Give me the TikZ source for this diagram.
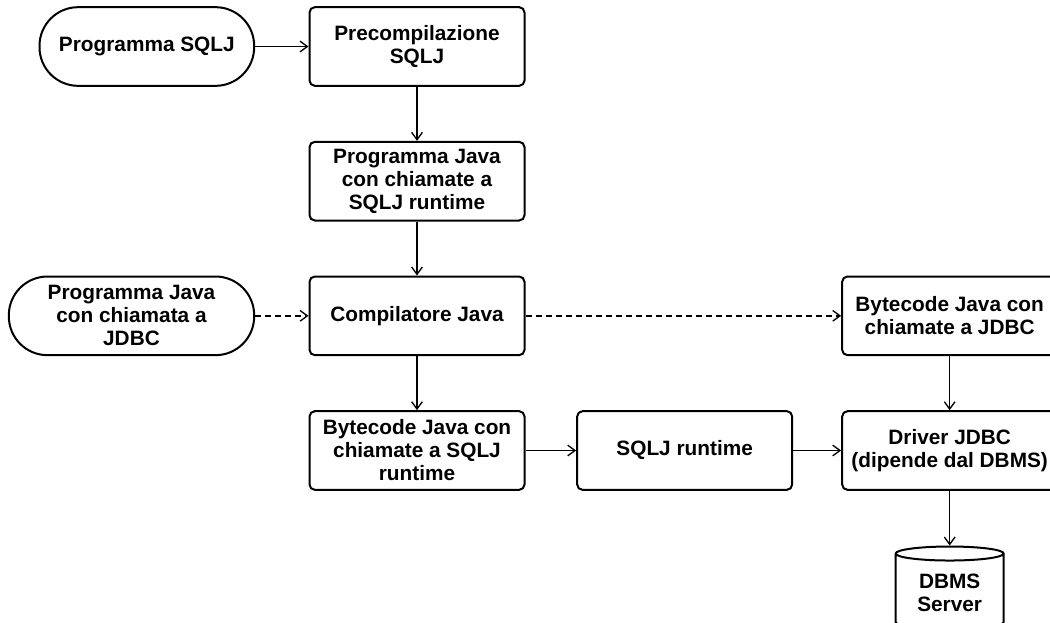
\documentclass[tikz,border=0pt]{standalone}
\usepackage{fontspec}
\setmainfont{Liberation Sans}
\usetikzlibrary{positioning, arrows.meta, shapes.geometric}

\begin{document}
\begin{tikzpicture}[
    x=0.75pt, y=-0.75pt,
    node distance=40.5pt and 39pt,
    every node/.style={font=\fontsize{15.6pt}{17.25pt}\selectfont\bfseries, align=center, inner sep=2pt},
    procbox/.style={rectangle, draw, line width=1.5pt, rounded corners=4pt, fill=white, minimum width=161.25pt, minimum height=59pt},
    termbox/.style={rectangle, draw, line width=1.5pt, rounded corners=29pt, fill=white, minimum height=59pt},
    dbstyle/.style={cylinder, shape border rotate=90, aspect=0.2, draw, line width=1.5pt, fill=white, minimum width=81pt, minimum height=62pt},
    arrowstyle/.style={-{Straight Barb[length=5.5pt, width=8pt]}, line width=1pt}
]

\useasboundingbox (0,0) rectangle (1050,622);
\clip (0,0) rectangle (1050,622);

% Main SQLJ chain
\node[procbox] (precomp) at (417,46.5) {Precompilazione\\SQLJ};
\node[procbox, below=of precomp] (javaprog) {Programma Java\\con chiamate a\\SQLJ runtime};
\node[procbox, below=of javaprog] (compiler) {Compilatore Java};
\node[procbox, below=of compiler] (bytesqlj) {Bytecode Java con\\chiamate a SQLJ\\runtime};
\node[procbox, right=38pt of bytesqlj] (runtime) {SQLJ runtime};
\node[procbox, right=36pt of runtime] (driver) {Driver JDBC\\(dipende dal DBMS)};
\node[procbox, above=of driver] (bytejdbc) {Bytecode Java con\\chiamate a JDBC};
\node[dbstyle, below=41pt of driver] (dbms) {DBMS\\Server};

% Sources
\node[termbox, minimum width=161pt, left=40pt of precomp] (sqljsrc) {Programma SQLJ};
\node[termbox, minimum width=184pt, left=40pt of compiler] (javasrc) {Programma Java\\con chiamata a\\JDBC};

% Arrows
\draw[arrowstyle] (sqljsrc) -- (precomp);
\draw[arrowstyle] (precomp) -- (javaprog);
\draw[arrowstyle] (javaprog) -- (compiler);
\draw[arrowstyle] (compiler) -- (bytesqlj);
\draw[arrowstyle] (bytesqlj) -- (runtime);
\draw[arrowstyle] (runtime) -- (driver);
\draw[arrowstyle] (bytejdbc) -- (driver);
\draw[arrowstyle] (driver) -- (dbms);

% JDBC path
\draw[arrowstyle, dash pattern=on 4.5pt off 3pt] (javasrc) -- (compiler);
\draw[arrowstyle, dash pattern=on 4.5pt off 3pt] (compiler) -- (bytejdbc);

\end{tikzpicture}
\end{document}
